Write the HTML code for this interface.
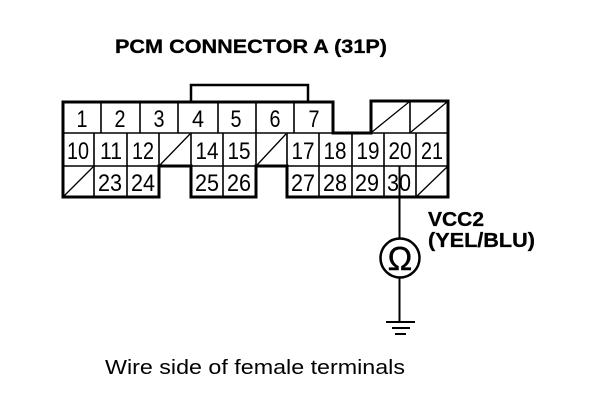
<!DOCTYPE html>
<html><head><meta charset="utf-8"><style>
html,body{margin:0;padding:0;background:#fff}
svg{display:block}
text{font-family:"Liberation Sans",sans-serif;fill:#000}
.n text{font-size:24px;text-anchor:middle}
</style></head><body>
<svg width="608" height="412" viewBox="0 0 608 412" xmlns="http://www.w3.org/2000/svg">
<text x="115" y="53" font-size="19" font-weight="bold" textLength="272" lengthAdjust="spacingAndGlyphs" stroke="#000" stroke-width=".3">PCM CONNECTOR A (31P)</text>
<g fill="none" stroke="#000" stroke-width="2">
<path d="M191 101V85H308V101" stroke-width="2.500"/>
<path stroke-width="3" d="M63 102H333V133H371V101H448V197H287V166H256V197H191V166H159V197H63Z"/>
<path stroke-width="1.600" d="M63 133H333M371 133H448M63 166H448"/>
<path stroke-width="1.600" d="M101 102V133M140 102V133M178 102V133M218 102V133M256 102V133M294 102V133M410 101V133"/>
<path stroke-width="1.600" d="M94 133V197M127 133V197M159 133V166M191 133V166M223 133V197M256 133V166M287 133V166M319 133V197M352 133V197M384 133V197M416 133V197"/>
</g>
<g stroke="#000" stroke-width="1.300">
<path d="M160 165L190 134M257 165L286 134M64 196L93 167M372 132L409 102M411 132L447 102M417 196L447 167"/>
</g>
<g class="n">
<text x="82" y="127" textLength="11" lengthAdjust="spacingAndGlyphs">1</text><text x="120" y="127" textLength="11" lengthAdjust="spacingAndGlyphs">2</text><text x="159" y="127" textLength="11" lengthAdjust="spacingAndGlyphs">3</text><text x="198" y="127" textLength="12" lengthAdjust="spacingAndGlyphs">4</text><text x="236" y="127" textLength="11" lengthAdjust="spacingAndGlyphs">5</text><text x="275" y="127" textLength="11" lengthAdjust="spacingAndGlyphs">6</text><text x="314" y="127" textLength="11" lengthAdjust="spacingAndGlyphs">7</text>
<text x="78" y="159" textLength="22" lengthAdjust="spacingAndGlyphs">10</text><text x="111" y="159" textLength="22" lengthAdjust="spacingAndGlyphs">11</text><text x="143" y="159" textLength="22" lengthAdjust="spacingAndGlyphs">12</text><text x="207" y="159" textLength="23" lengthAdjust="spacingAndGlyphs">14</text><text x="239" y="159" textLength="23" lengthAdjust="spacingAndGlyphs">15</text><text x="303" y="159" textLength="23" lengthAdjust="spacingAndGlyphs">17</text><text x="335" y="159" textLength="23" lengthAdjust="spacingAndGlyphs">18</text><text x="368" y="159" textLength="23" lengthAdjust="spacingAndGlyphs">19</text><text x="400" y="159" textLength="23" lengthAdjust="spacingAndGlyphs">20</text><text x="432" y="159" textLength="22" lengthAdjust="spacingAndGlyphs">21</text>
<text x="110" y="191" textLength="24" lengthAdjust="spacingAndGlyphs">23</text><text x="143" y="191" textLength="24" lengthAdjust="spacingAndGlyphs">24</text><text x="207" y="191" textLength="24" lengthAdjust="spacingAndGlyphs">25</text><text x="239" y="191" textLength="24" lengthAdjust="spacingAndGlyphs">26</text><text x="303" y="191" textLength="24" lengthAdjust="spacingAndGlyphs">27</text><text x="335" y="191" textLength="24" lengthAdjust="spacingAndGlyphs">28</text><text x="367" y="191" textLength="24" lengthAdjust="spacingAndGlyphs">29</text><text x="399" y="191" textLength="24" lengthAdjust="spacingAndGlyphs">30</text>
</g>
<path d="M399.500 166V238M399.500 278V322" stroke="#000" stroke-width="2" fill="none"/>
<circle cx="400" cy="258" r="19.500" fill="#fff" stroke="#000" stroke-width="2.500"/>
<text x="400" y="270" font-size="33" text-anchor="middle" stroke="#000" stroke-width=".4">Ω</text>
<path d="M386 322H415M392 328H410M395 334H406" stroke="#000" stroke-width="2" fill="none"/>
<text x="428" y="226" font-size="20" font-weight="bold" textLength="56" lengthAdjust="spacingAndGlyphs" stroke="#000" stroke-width=".3">VCC2</text>
<text x="428" y="247" font-size="20" font-weight="bold" textLength="107" lengthAdjust="spacingAndGlyphs" stroke="#000" stroke-width=".3">(YEL/BLU)</text>
<text x="105" y="374" font-size="20" textLength="300" lengthAdjust="spacingAndGlyphs">Wire side of female terminals</text>
</svg>
</body></html>
